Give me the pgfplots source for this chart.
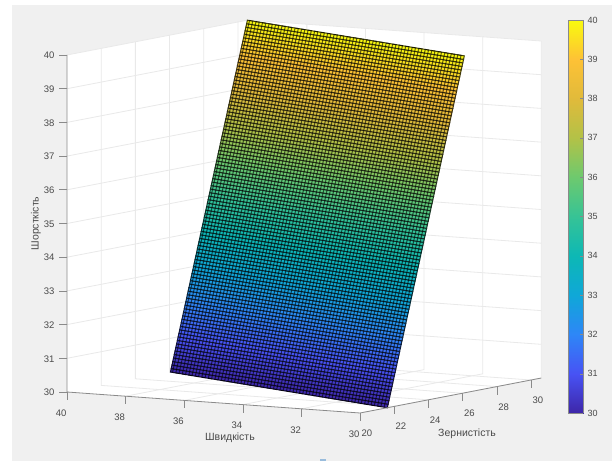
\documentclass[border=0pt]{standalone}
\usepackage{pgfplots}
\pgfplotsset{compat=1.18}
\usepackage{fontspec}
\setmainfont{Liberation Sans}
\definecolor{figbg}{HTML}{F0F0F0}
\definecolor{axc}{HTML}{8A8A8A}
\definecolor{txt}{HTML}{4A4A4A}
\definecolor{grd}{HTML}{E9E9E9}
\pgfplotsset{colormap={parula}{
rgb=(0.2422,0.1504,0.6603)
rgb=(0.2810,0.3228,0.9579)
rgb=(0.1786,0.5289,0.9682)
rgb=(0.0590,0.6570,0.8450)
rgb=(0.0500,0.7200,0.7100)
rgb=(0.2100,0.7650,0.5900)
rgb=(0.4300,0.7900,0.4300)
rgb=(0.7000,0.7600,0.2800)
rgb=(0.8800,0.7300,0.2300)
rgb=(0.9950,0.7600,0.2100)
rgb=(0.9763,0.9831,0.0538)
}}
\begin{document}
\begin{tikzpicture}[x=1pt,y=1pt]
\fill[white] (0,0) rectangle (612,461);
\fill[figbg] (12,0) rectangle (612,456);
\fill[cyan!50!blue,opacity=0.4] (320,0) rectangle (326,2);
\fill[white] (67,69) -- (360,48) -- (541.3,83) -- (541.3,420) -- (248.3,441) -- (67,406) -- cycle;
\begin{axis}[
  at={(67pt,48pt)},anchor=south west,
  clip=false,
  x={(-29.3pt,2.1pt)},y={(17.1pt,3.3pt)},z={(0pt,33.7pt)},
  xmin=30,xmax=40,ymin=20,ymax=30.6,zmin=30,zmax=40,
  xtick={30,32,...,40},ytick={20,22,...,30},ztick={30,31,...,40},
  axis line style={draw=none},tick style={draw=none},
  colormap name=parula,point meta min=30,point meta max=40,
  tick label style={font=\fontsize{9.5}{11}\selectfont,text=txt,/pgf/number format/assume math mode=true},
  xticklabel style={yshift=-14pt},
  yticklabel style={yshift=-13pt},
  zticklabel style={xshift=-9pt},
  label style={font=\fontsize{10.5}{12}\selectfont,text=txt},
  xlabel={Швидкість},ylabel={Зернистість},zlabel={Шорсткість},
  xlabel style={at={(axis cs:34.44,20,30)},anchor=center,yshift=-34pt},
  ylabel style={at={(axis cs:30,26.26,30)},anchor=center,yshift=-41pt},
  zlabel style={at={(axis cs:40,20,35)},anchor=center,yshift=31pt},
]
\pgfplotsinvokeforeach{31,32,...,40}{
  \draw[grd,line width=0.8pt] (axis cs:40,20,#1) -- (axis cs:40,30.6,#1) -- (axis cs:30,30.6,#1);}
\pgfplotsinvokeforeach{22,24,...,30}{
  \draw[grd,line width=0.8pt] (axis cs:40,#1,40) -- (axis cs:40,#1,30) -- (axis cs:30,#1,30);}
\pgfplotsinvokeforeach{30,32,...,38}{
  \draw[grd,line width=0.8pt] (axis cs:#1,30.6,40) -- (axis cs:#1,30.6,30) -- (axis cs:#1,20,30);}
\addplot3[surf,shader=faceted,faceted color=mapped color!25!black,line width=1pt,mesh/rows=101,mesh/cols=2,point meta=z] coordinates {
(30,21.6,30.0)(40,26.05,30.0)
(30,21.645,30.1)(40,26.095,30.1)
(30,21.69,30.2)(40,26.14,30.2)
(30,21.735,30.3)(40,26.185,30.3)
(30,21.78,30.4)(40,26.23,30.4)
(30,21.825,30.5)(40,26.275,30.5)
(30,21.87,30.6)(40,26.32,30.6)
(30,21.915,30.7)(40,26.365,30.7)
(30,21.96,30.8)(40,26.41,30.8)
(30,22.005,30.9)(40,26.455,30.9)
(30,22.05,31.0)(40,26.5,31.0)
(30,22.095,31.1)(40,26.545,31.1)
(30,22.14,31.2)(40,26.59,31.2)
(30,22.185,31.3)(40,26.635,31.3)
(30,22.23,31.4)(40,26.68,31.4)
(30,22.275,31.5)(40,26.725,31.5)
(30,22.32,31.6)(40,26.77,31.6)
(30,22.365,31.7)(40,26.815,31.7)
(30,22.41,31.8)(40,26.86,31.8)
(30,22.455,31.9)(40,26.905,31.9)
(30,22.5,32.0)(40,26.95,32.0)
(30,22.545,32.1)(40,26.995,32.1)
(30,22.59,32.2)(40,27.04,32.2)
(30,22.635,32.3)(40,27.085,32.3)
(30,22.68,32.4)(40,27.13,32.4)
(30,22.725,32.5)(40,27.175,32.5)
(30,22.77,32.6)(40,27.22,32.6)
(30,22.815,32.7)(40,27.265,32.7)
(30,22.86,32.8)(40,27.31,32.8)
(30,22.905,32.9)(40,27.355,32.9)
(30,22.95,33.0)(40,27.4,33.0)
(30,22.995,33.1)(40,27.445,33.1)
(30,23.04,33.2)(40,27.49,33.2)
(30,23.085,33.3)(40,27.535,33.3)
(30,23.13,33.4)(40,27.58,33.4)
(30,23.175,33.5)(40,27.625,33.5)
(30,23.22,33.6)(40,27.67,33.6)
(30,23.265,33.7)(40,27.715,33.7)
(30,23.31,33.8)(40,27.76,33.8)
(30,23.355,33.9)(40,27.805,33.9)
(30,23.4,34.0)(40,27.85,34.0)
(30,23.445,34.1)(40,27.895,34.1)
(30,23.49,34.2)(40,27.94,34.2)
(30,23.535,34.3)(40,27.985,34.3)
(30,23.58,34.4)(40,28.03,34.4)
(30,23.625,34.5)(40,28.075,34.5)
(30,23.67,34.6)(40,28.12,34.6)
(30,23.715,34.7)(40,28.165,34.7)
(30,23.76,34.8)(40,28.21,34.8)
(30,23.805,34.9)(40,28.255,34.9)
(30,23.85,35.0)(40,28.3,35.0)
(30,23.895,35.1)(40,28.345,35.1)
(30,23.94,35.2)(40,28.39,35.2)
(30,23.985,35.3)(40,28.435,35.3)
(30,24.03,35.4)(40,28.48,35.4)
(30,24.075,35.5)(40,28.525,35.5)
(30,24.12,35.6)(40,28.57,35.6)
(30,24.165,35.7)(40,28.615,35.7)
(30,24.21,35.8)(40,28.66,35.8)
(30,24.255,35.9)(40,28.705,35.9)
(30,24.3,36.0)(40,28.75,36.0)
(30,24.345,36.1)(40,28.795,36.1)
(30,24.39,36.2)(40,28.84,36.2)
(30,24.435,36.3)(40,28.885,36.3)
(30,24.48,36.4)(40,28.93,36.4)
(30,24.525,36.5)(40,28.975,36.5)
(30,24.57,36.6)(40,29.02,36.6)
(30,24.615,36.7)(40,29.065,36.7)
(30,24.66,36.8)(40,29.11,36.8)
(30,24.705,36.9)(40,29.155,36.9)
(30,24.75,37.0)(40,29.2,37.0)
(30,24.795,37.1)(40,29.245,37.1)
(30,24.84,37.2)(40,29.29,37.2)
(30,24.885,37.3)(40,29.335,37.3)
(30,24.93,37.4)(40,29.38,37.4)
(30,24.975,37.5)(40,29.425,37.5)
(30,25.02,37.6)(40,29.47,37.6)
(30,25.065,37.7)(40,29.515,37.7)
(30,25.11,37.8)(40,29.56,37.8)
(30,25.155,37.9)(40,29.605,37.9)
(30,25.2,38.0)(40,29.65,38.0)
(30,25.245,38.1)(40,29.695,38.1)
(30,25.29,38.2)(40,29.74,38.2)
(30,25.335,38.3)(40,29.785,38.3)
(30,25.38,38.4)(40,29.83,38.4)
(30,25.425,38.5)(40,29.875,38.5)
(30,25.47,38.6)(40,29.92,38.6)
(30,25.515,38.7)(40,29.965,38.7)
(30,25.56,38.8)(40,30.01,38.8)
(30,25.605,38.9)(40,30.055,38.9)
(30,25.65,39.0)(40,30.1,39.0)
(30,25.695,39.1)(40,30.145,39.1)
(30,25.74,39.2)(40,30.19,39.2)
(30,25.785,39.3)(40,30.235,39.3)
(30,25.83,39.4)(40,30.28,39.4)
(30,25.875,39.5)(40,30.325,39.5)
(30,25.92,39.6)(40,30.37,39.6)
(30,25.965,39.7)(40,30.415,39.7)
(30,26.01,39.8)(40,30.46,39.8)
(30,26.055,39.9)(40,30.505,39.9)
(30,26.1,40.0)(40,30.55,40.0)
};
\addplot3[black,opacity=0.6,line width=1pt,no markers,forget plot] coordinates {
(30.15,21.667,30)(30.15,26.167,40)(30.30,26.234,40)(30.30,21.734,30)
(30.45,21.800,30)(30.45,26.300,40)(30.60,26.367,40)(30.60,21.867,30)
(30.75,21.934,30)(30.75,26.434,40)(30.90,26.500,40)(30.90,22.000,30)
(31.05,22.067,30)(31.05,26.567,40)(31.20,26.634,40)(31.20,22.134,30)
(31.35,22.200,30)(31.35,26.700,40)(31.50,26.767,40)(31.50,22.267,30)
(31.65,22.334,30)(31.65,26.834,40)(31.80,26.900,40)(31.80,22.400,30)
(31.95,22.467,30)(31.95,26.967,40)(32.10,27.034,40)(32.10,22.534,30)
(32.25,22.600,30)(32.25,27.100,40)(32.40,27.167,40)(32.40,22.667,30)
(32.55,22.734,30)(32.55,27.234,40)(32.70,27.300,40)(32.70,22.800,30)
(32.85,22.867,30)(32.85,27.367,40)(33.00,27.434,40)(33.00,22.934,30)
(33.15,23.000,30)(33.15,27.500,40)(33.30,27.567,40)(33.30,23.067,30)
(33.45,23.134,30)(33.45,27.634,40)(33.60,27.700,40)(33.60,23.200,30)
(33.75,23.267,30)(33.75,27.767,40)(33.90,27.834,40)(33.90,23.334,30)
(34.05,23.400,30)(34.05,27.900,40)(34.20,27.967,40)(34.20,23.467,30)
(34.35,23.534,30)(34.35,28.034,40)(34.50,28.100,40)(34.50,23.600,30)
(34.65,23.667,30)(34.65,28.167,40)(34.80,28.234,40)(34.80,23.734,30)
(34.95,23.800,30)(34.95,28.300,40)(35.10,28.367,40)(35.10,23.867,30)
(35.25,23.934,30)(35.25,28.434,40)(35.40,28.500,40)(35.40,24.000,30)
(35.55,24.067,30)(35.55,28.567,40)(35.70,28.634,40)(35.70,24.134,30)
(35.85,24.200,30)(35.85,28.700,40)(36.00,28.767,40)(36.00,24.267,30)
(36.15,24.334,30)(36.15,28.834,40)(36.30,28.900,40)(36.30,24.400,30)
(36.45,24.467,30)(36.45,28.967,40)(36.60,29.034,40)(36.60,24.534,30)
(36.75,24.600,30)(36.75,29.100,40)(36.90,29.167,40)(36.90,24.667,30)
(37.05,24.734,30)(37.05,29.234,40)(37.20,29.300,40)(37.20,24.800,30)
(37.35,24.867,30)(37.35,29.367,40)(37.50,29.434,40)(37.50,24.934,30)
(37.65,25.000,30)(37.65,29.500,40)(37.80,29.567,40)(37.80,25.067,30)
(37.95,25.134,30)(37.95,29.634,40)(38.10,29.700,40)(38.10,25.200,30)
(38.25,25.267,30)(38.25,29.767,40)(38.40,29.834,40)(38.40,25.334,30)
(38.55,25.400,30)(38.55,29.900,40)(38.70,29.967,40)(38.70,25.467,30)
(38.85,25.534,30)(38.85,30.034,40)(39.00,30.100,40)(39.00,25.600,30)
(39.15,25.667,30)(39.15,30.167,40)(39.30,30.234,40)(39.30,25.734,30)
(39.45,25.800,30)(39.45,30.300,40)(39.60,30.367,40)(39.60,25.867,30)
(39.75,25.934,30)(39.75,30.434,40)(39.90,30.500,40)(39.90,26.000,30)
};
\addplot3[axc,line width=0.8pt,no markers,forget plot] coordinates {(40,20,40)(40,20,30)(30,20,30)(30,30.6,30)};
\pgfplotsinvokeforeach{30,31,...,40}{\draw[axc,line width=0.6pt] (axis cs:40,20,#1) -- ++(-8pt,0pt);}
\pgfplotsinvokeforeach{30,32,...,40}{\draw[axc,line width=0.6pt] (axis cs:#1,20,30) -- ++(0pt,-8pt);}
\pgfplotsinvokeforeach{20,22,...,30}{\draw[axc,line width=0.6pt] (axis cs:30,#1,30) -- ++(0pt,-8pt);}
\end{axis}
\begin{axis}[
  at={(568pt,48pt)},anchor=south west,scale only axis,width=15pt,height=393pt,
  xmin=0,xmax=1,ymin=30,ymax=40,view={0}{90},
  xtick=\empty,ytick={30,31,...,40},ytick pos=right,yticklabel pos=right,
  tick align=inside,major tick length=3pt,tick style={draw=axc},
  axis line style={draw=axc,line width=0.6pt},axis on top,
  colormap name=parula,point meta min=30,point meta max=40,
  tick label style={font=\fontsize{9}{11}\selectfont,text=txt,/pgf/number format/assume math mode=true},
  yticklabel style={xshift=1pt},
]
\addplot3[surf,shader=interp,point meta=y,mesh/rows=11,mesh/cols=2] coordinates {
(0,30,0)(1,30,0)
(0,31,0)(1,31,0)
(0,32,0)(1,32,0)
(0,33,0)(1,33,0)
(0,34,0)(1,34,0)
(0,35,0)(1,35,0)
(0,36,0)(1,36,0)
(0,37,0)(1,37,0)
(0,38,0)(1,38,0)
(0,39,0)(1,39,0)
(0,40,0)(1,40,0)
};
\end{axis}
\pgfresetboundingbox
\useasboundingbox (0,0) rectangle (612,461);
\end{tikzpicture}
\end{document}
